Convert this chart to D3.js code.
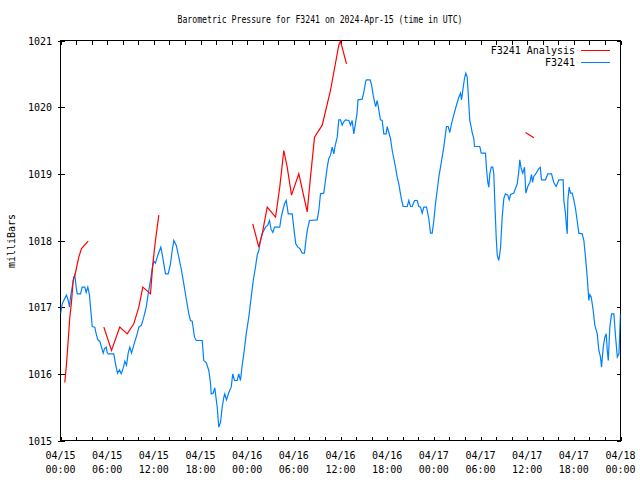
<!DOCTYPE html>
<html><head><meta charset="utf-8">
<script src="https://cdn.jsdelivr.net/npm/d3@7"></script>
<style>body{margin:0;background:#fff}svg{display:block}text{font-family:"DejaVu Sans Mono",monospace;fill:#000}</style>
</head><body><svg id="c" width="640" height="480"></svg>
<script>
// hours since 2024-04-15 00:00 UTC
const stationHours = [0,0.22,0.42,0.77,0.99,1.16,1.29,1.5,1.71,1.84,2.02,2.15,2.57,2.79,3.12,3.3,3.51,3.73,3.86,4.08,4.41,4.59,4.8,5.05,5.27,5.49,5.66,5.88,6,6.13,6.85,7.07,7.33,7.59,7.8,8.1,8.27,8.49,8.7,8.91,9.13,9.42,9.86,10.07,10.41,10.71,11.02,11.28,11.57,11.79,12,12.21,12.43,12.73,12.9,13.07,13.28,13.5,13.85,14.14,14.36,14.57,14.88,15.21,15.56,15.85,16.16,16.5,16.71,16.93,17.23,17.45,18.22,18.42,18.73,19.07,19.29,19.38,19.63,19.84,19.93,20.15,20.35,20.57,20.79,21,21.12,21.34,21.64,21.95,22.15,22.37,22.72,22.92,23.14,23.36,23.57,23.88,24.21,24.52,24.78,25.07,25.29,25.5,25.71,25.93,26.14,26.36,26.65,26.87,27.07,27.3,27.51,28.19,28.38,28.58,28.8,29.02,29.15,29.28,29.79,29.92,30.09,30.25,30.51,30.77,31.08,31.37,31.5,31.72,32.01,33,33.21,33.43,33.85,34.07,34.29,34.5,34.71,34.93,35.14,35.27,35.58,35.78,36,36.22,36.42,36.64,37.07,37.29,37.5,37.71,37.93,38.12,38.25,38.79,39,39.25,39.34,39.8,40,40.2,40.41,40.53,40.71,40.84,41.01,41.14,41.36,41.57,41.87,42,42.21,42.43,42.65,42.85,43.07,43.29,43.5,43.71,43.93,44.06,44.58,44.78,45,45.22,45.51,45.86,46.07,46.29,46.5,46.71,47.06,47.35,47.57,47.79,48,48.21,48.43,48.64,48.86,49.07,49.28,49.5,49.63,49.85,50.05,50.27,50.49,50.79,51.01,51.21,51.43,51.56,51.78,51.94,52.11,52.29,52.42,52.62,52.84,52.93,53.14,53.23,53.91,54.09,54.64,54.77,54.94,55.07,55.2,55.38,55.58,55.71,55.84,56.02,56.15,56.35,56.57,56.79,57,57.21,57.51,57.69,57.86,58.28,58.5,58.72,58.92,59.05,59.23,59.44,59.66,59.83,60.08,60.34,60.56,60.69,60.85,61.16,61.5,61.68,61.84,62.36,62.65,63.13,63.42,63.73,63.94,64.07,64.63,64.71,64.93,65.06,65.15,65.23,65.4,65.57,65.79,66,66.21,66.43,66.64,67.07,67.29,67.5,67.72,67.93,68.06,68.24,68.49,68.7,69.01,69.22,69.43,69.56,69.78,69.99,70.17,70.3,70.43,70.63,70.85,71.15,71.37,71.59,71.8,71.93,72];
const stationPressure = [1016.90,1017.05,1017.10,1017.18,1017.10,1017.00,1017.15,1017.30,1017.45,1017.48,1017.30,1017.20,1017.20,1017.30,1017.30,1017.22,1017.30,1017.18,1017.00,1016.71,1016.70,1016.60,1016.51,1016.49,1016.40,1016.31,1016.38,1016.40,1016.32,1016.30,1016.30,1016.15,1016.01,1016.06,1016.00,1016.10,1016.19,1016.13,1016.31,1016.40,1016.31,1016.43,1016.60,1016.70,1016.73,1016.85,1017.00,1017.20,1017.40,1017.58,1017.69,1017.66,1017.75,1017.85,1017.90,1017.80,1017.65,1017.50,1017.50,1017.65,1017.85,1018.00,1017.93,1017.75,1017.55,1017.35,1017.13,1016.90,1016.80,1016.79,1016.55,1016.50,1016.50,1016.20,1016.17,1016.05,1015.85,1015.70,1015.71,1015.79,1015.70,1015.50,1015.20,1015.27,1015.50,1015.65,1015.70,1015.61,1015.72,1015.80,1016.00,1015.90,1015.90,1016.00,1015.90,1016.13,1016.30,1016.60,1016.85,1017.15,1017.40,1017.60,1017.78,1017.85,1018.00,1018.10,1018.15,1018.20,1018.23,1018.30,1018.17,1018.12,1018.20,1018.20,1018.35,1018.45,1018.55,1018.60,1018.50,1018.40,1018.40,1018.27,1018.10,1017.95,1017.90,1017.88,1017.81,1017.81,1017.95,1018.15,1018.30,1018.31,1018.45,1018.70,1018.71,1018.90,1019.10,1019.23,1019.28,1019.40,1019.30,1019.40,1019.55,1019.81,1019.81,1019.73,1019.78,1019.81,1019.80,1019.73,1019.80,1019.60,1019.76,1019.90,1020.11,1020.12,1020.23,1020.39,1020.41,1020.41,1020.33,1020.18,1020.06,1020.01,1020.10,1020.02,1019.90,1019.81,1019.80,1019.60,1019.60,1019.71,1019.62,1019.53,1019.35,1019.23,1019.10,1018.95,1018.85,1018.70,1018.57,1018.51,1018.51,1018.60,1018.51,1018.51,1018.60,1018.60,1018.51,1018.50,1018.41,1018.50,1018.50,1018.33,1018.11,1018.11,1018.30,1018.55,1018.75,1018.95,1019.10,1019.25,1019.40,1019.60,1019.71,1019.71,1019.62,1019.75,1019.85,1019.98,1020.07,1020.15,1020.21,1020.11,1020.30,1020.43,1020.51,1020.45,1020.20,1019.80,1019.68,1019.62,1019.53,1019.41,1019.41,1019.31,1019.31,1019.08,1018.87,1018.80,1019.00,1019.10,1019.10,1019.00,1018.57,1018.05,1017.78,1017.70,1017.88,1018.35,1018.63,1018.70,1018.68,1018.61,1018.69,1018.71,1018.78,1018.85,1019.03,1019.21,1019.08,1019.01,1019.10,1018.71,1018.81,1018.87,1018.99,1018.87,1018.96,1019.01,1019.08,1019.10,1018.91,1018.91,1019.00,1019.00,1018.87,1018.81,1018.87,1018.91,1018.91,1018.61,1018.40,1018.20,1018.10,1018.60,1018.80,1018.71,1018.71,1018.61,1018.48,1018.30,1018.11,1018.10,1018.00,1017.75,1017.45,1017.10,1017.19,1017.15,1016.95,1016.73,1016.60,1016.35,1016.25,1016.10,1016.40,1016.55,1016.60,1016.35,1016.20,1016.70,1016.90,1016.90,1016.55,1016.25,1016.30,1016.70,1016.90];

// analysis series: separate runs
const analysisHours = [
  [0.55,0.77,0.99,1.2,1.41,1.63,1.93,2.35,2.7,3.56],
  [5.57,6.56,7.62,8.58,9.42,10.07,10.58,11.57,11.87,12.21,12.64],
  [24.72,25.5,25.93,26.58,27.65,28.19,28.71,29.15,29.7,30.64,31.72,32.14,32.66,33.65,34.71,35.78,36,36.77],
  [59.79,60.86]
];
const analysisPressure = [
  [1015.87,1016.15,1016.5,1016.85,1017.07,1017.4,1017.52,1017.75,1017.88,1017.99],
  [1016.7,1016.35,1016.7,1016.6,1016.75,1017.0,1017.3,1017.2,1017.65,1018.0,1018.38],
  [1018.25,1017.9,1018.1,1018.5,1018.35,1018.8,1019.35,1019.1,1018.68,1019.0,1018.43,1018.95,1019.55,1019.73,1020.25,1020.93,1020.99,1020.65],
  [1019.62,1019.54]
];

const yTicks = [1015,1016,1017,1018,1019,1020,1021];
const xLabelHours = [0,6,12,18,24,30,36,42,48,54,60,66,72];
const xLabelDates = ["04/15","04/15","04/15","04/15","04/16","04/16","04/16","04/16","04/17","04/17","04/17","04/17","04/18"];
const xLabelTimes = ["00:00","06:00","12:00","18:00","00:00","06:00","12:00","18:00","00:00","06:00","12:00","18:00","00:00"];
const xMinorHours = d3.range(0, 73, 2);

const title = "Barometric Pressure for F3241 on 2024-Apr-15 (time in UTC)";
const yTitle = "milliBars";
const seriesNames = ["F3241 Analysis","F3241"];
const seriesColors = ["#ff0000","#0080ff"];

const svg = d3.select("#c");
const L = 60.5, R = 620.5, T = 40.5, B = 440.5;
const x = d3.scaleLinear().domain([0,72]).range([L,R]);
const y = d3.scaleLinear().domain([1015,1021]).range([B,T]);

// title
svg.append("text").attr("x",320).attr("y",23).attr("text-anchor","middle")
  .attr("font-size","10px").attr("textLength",285).attr("lengthAdjust","spacingAndGlyphs").text(title);

// frame
svg.append("rect").attr("x",L).attr("y",T).attr("width",R-L).attr("height",B-T)
  .attr("fill","none").attr("stroke","#000").attr("stroke-width",1).attr("shape-rendering","crispEdges");

// x ticks (inward, top and bottom)
const g = svg.append("g").attr("stroke","#000").attr("stroke-width",1).attr("shape-rendering","crispEdges");
xMinorHours.forEach(h=>{
  const px = Math.round(x(h))+0.5;
  g.append("line").attr("x1",px).attr("x2",px).attr("y1",B).attr("y2",B-4);
  g.append("line").attr("x1",px).attr("x2",px).attr("y1",T).attr("y2",T+4);
});
// y ticks
yTicks.forEach(v=>{
  const py = Math.round(y(v))+0.5;
  g.append("line").attr("x1",L-3).attr("x2",L+4).attr("y1",py).attr("y2",py);
  g.append("line").attr("x1",R-4).attr("x2",R).attr("y1",py).attr("y2",py);
});

// y labels
svg.append("g").selectAll("text").data(yTicks).join("text")
  .attr("x",52).attr("y",d=>y(d)+4).attr("text-anchor","end").attr("font-size","10px").text(d=>d);

// x labels
const xl = svg.append("g").selectAll("g").data(xLabelHours).join("g");
xl.append("text").attr("x",d=>x(d)).attr("y",459).attr("text-anchor","middle").attr("font-size","10px")
  .text((d,i)=>xLabelDates[i]);
xl.append("text").attr("x",d=>x(d)).attr("y",473).attr("text-anchor","middle").attr("font-size","10px")
  .text((d,i)=>xLabelTimes[i]);

// y title
svg.append("text").attr("transform","translate(15,241) rotate(-90)").attr("text-anchor","middle")
  .attr("font-size","10px").text(yTitle);

// clip
svg.append("clipPath").attr("id","clip").append("rect").attr("x",L).attr("y",T-1).attr("width",R-L).attr("height",B-T+2);

const line = d3.line().x(d=>x(d[0])).y(d=>y(d[1]));
const plot = svg.append("g").attr("clip-path","url(#clip)");

plot.append("path").datum(stationHours.map((h,i)=>[h,stationPressure[i]]))
  .attr("d",line).attr("fill","none").attr("stroke",seriesColors[1]).attr("stroke-width",1.2);

analysisHours.forEach((hs,k)=>{
  plot.append("path").datum(hs.map((h,i)=>[h,analysisPressure[k][i]]))
    .attr("d",line).attr("fill","none").attr("stroke",seriesColors[0]).attr("stroke-width",1.2);
});

// legend
const leg = svg.append("g");
seriesNames.forEach((n,i)=>{
  const ly = 50 + i*12;
  leg.append("text").attr("x",575).attr("y",ly+4).attr("text-anchor","end").attr("font-size","10px").text(n);
  leg.append("line").attr("x1",581).attr("x2",610).attr("y1",ly+0.5).attr("y2",ly+0.5)
    .attr("stroke",seriesColors[i]).attr("stroke-width",1).attr("shape-rendering","crispEdges");
});
</script></body></html>
